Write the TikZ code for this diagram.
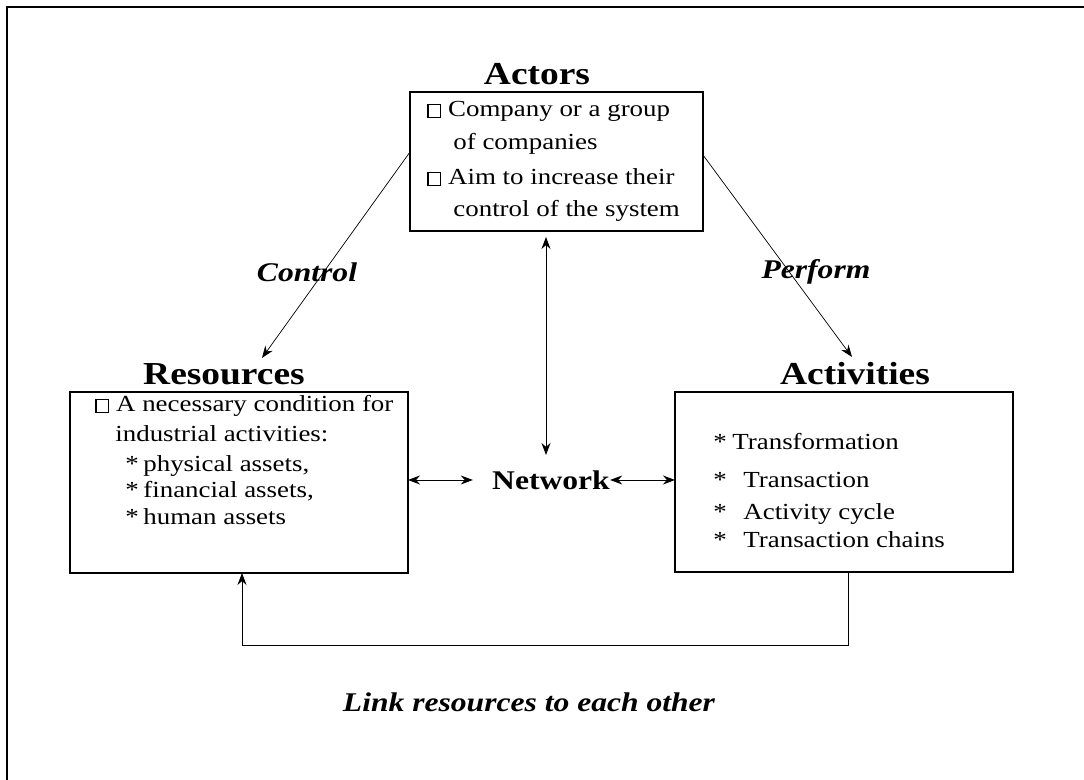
\documentclass[tikz,border=0pt]{standalone}
\usepackage{fontspec}
\setmainfont{Liberation Serif}[FakeStretch=1.17]
\usetikzlibrary{arrows.meta}

\newcommand{\sqmark}{\raisebox{0.2pt}{\fboxsep=0pt\fboxrule=0.6pt\fbox{\rule{0pt}{5.8pt}\hspace{5.8pt}}}}

\begin{document}
\begin{tikzpicture}[x=0.5pt,y=0.5pt,>={Stealth[length=6pt,width=4.5pt]},
    title/.style={anchor=base,font=\fontsize{16}{19}\selectfont\bfseries},
    item/.style={anchor=base west,inner sep=0pt,font=\fontsize{11.5}{14}\selectfont},
    verb/.style={font=\fontsize{13.5}{16}\selectfont\bfseries\itshape},
    thin line/.style={line width=0.45pt}]

\tikzset{add reference/.style={insert path={%
    coordinate [pos=0] (#1 south west)
    coordinate [pos=1] (#1 north east)
    coordinate [pos=.5] (#1 center)
    (#1 center     |- #1 north east)     coordinate (#1 north)
    (#1 center     |- #1 south west)     coordinate (#1 south)
    (#1 center     -| #1 south west)     coordinate (#1 west)
    (#1 center     -| #1 north east)     coordinate (#1 east)
}}}

\useasboundingbox (0,0) rectangle (1084,780);

%% Frame (only top and left edge visible)
\draw[line width=0.6pt] (1084,773) -- (7,773) -- (7,0);

%% Actors
\draw[line width=0.7pt] (410,549) rectangle ++(293,139) [add reference=actors];
\node[title] (actorsT) at (537,695) {Actors};
\node[item] (act1) at (427,663) {\sqmark\ Company or a group};
\node[item] (act2) at (453,630) {of companies};
\node[item] (act3) at (427,595) {\sqmark\ Aim to increase their};
\node[item] (act4) at (453,563) {control of the system};

%% Resources
\draw[line width=0.7pt] (70,207) rectangle ++(338,181) [add reference=resources];
\node[title] (resT) at (224,395) {Resources};
\node[item] (res1) at (95,368) {\sqmark\ A necessary condition for};
\node[item] (res2) at (115,338) {industrial activities:};
\node[item] (res3) at (125,308) {\makebox[9pt][l]{*}physical assets,};
\node[item] (res4) at (125,282) {\makebox[9pt][l]{*}financial assets,};
\node[item] (res5) at (125,255) {\makebox[9pt][l]{*}human assets};

%% Activities
\draw[line width=0.7pt] (675,208) rectangle ++(338,180) [add reference=activities];
\node[title] (actvT) at (855,395) {Activities};
\node[item] (actv1) at (713,330) {\makebox[9.5pt][l]{*}Transformation};
\node[item] (actv2) at (713,292) {\makebox[15pt][l]{*}Transaction};
\node[item] (actv3) at (713,260) {\makebox[15pt][l]{*}Activity cycle};
\node[item] (actv4) at (713,232) {\makebox[15pt][l]{*}Transaction chains};

%% Network
\node[inner sep=0pt,font=\fontsize{13.5}{16}\selectfont\bfseries] (network) at (551,300) {Network};
\draw[thin line,<->] (resources east |- network) -- ([xshift=-9.5pt]network.west);
\draw[thin line,<->] (network.east) -- (activities west |- network);
\coordinate (hub top) at (546,543);
\coordinate (hub bottom) at (546,325);
\draw[thin line,<->] (hub top) -- (hub bottom);

%% Control and Perform
\coordinate (ctrl from) at (410,628);
\coordinate (ctrl to) at (262,422);
\coordinate (perf from) at (703,625);
\coordinate (perf to) at (852,423);
\draw[line width=0.35pt,->] (ctrl from) -- (ctrl to);
\draw[line width=0.35pt,->] (perf from) -- (perf to);
\node[verb] (control) at (307,508) {Control};
\node[verb] (perform) at (816,508) {Perform};

%% Link back
\coordinate (fb out) at (848,208);
\coordinate (fb in) at (242,207);
\draw[thin line,->] (fb out) -- ++(0,-73) -| (fb in);
\node[verb,anchor=base] (link) at (529,68) {Link resources to each other};

\end{tikzpicture}
\end{document}
